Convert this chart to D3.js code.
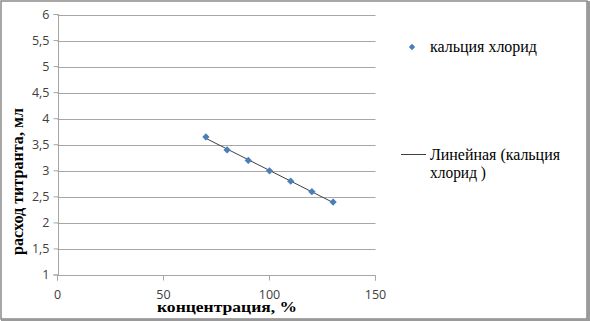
<!DOCTYPE html>
<html><head><meta charset="utf-8">
<script src="https://cdn.jsdelivr.net/npm/d3@7"></script>
<style>body{margin:0;background:#fff}svg{display:block}
.serif{font-family:"Liberation Serif","Times New Roman",Tinos,"DejaVu Serif",serif}</style>
</head><body><svg id="c" width="590" height="321"></svg>
<script>
const concentration = [70, 80, 90, 100, 110, 120, 130];
const titrant = [3.65, 3.4, 3.2, 3.0, 2.8, 2.6, 2.4];
const xTicks = [0, 50, 100, 150];
const yTicks = [1, 1.5, 2, 2.5, 3, 3.5, 4, 4.5, 5, 5.5, 6];
const seriesName = "кальция хлорид";
const trendName = ["Линейная (кальция", "хлорид )"];
const xTitle = "концентрация, %";
const yTitle = "расход титранта, мл";

const svg = d3.select("#c");
const W = 590, H = 321;
svg.append("rect").attr("x",0).attr("y",0).attr("width",W).attr("height",H).attr("fill","#fff");
svg.append("rect").attr("x",1).attr("y",1).attr("width",586).attr("height",318).attr("fill","none").attr("stroke","#8a8a8a").attr("stroke-width",1.5);
svg.append("rect").attr("x",587).attr("y",1).attr("width",3).attr("height",320).attr("fill","#9a9a9a");
svg.append("rect").attr("x",1).attr("y",319).attr("width",589).attr("height",2).attr("fill","#9a9a9a");

const x = d3.scaleLinear().domain([0,150]).range([57.5,375.5]);
const y = d3.scaleLinear().domain([1,6]).range([275,14.5]);
const fmt = d => String(d).replace(".", ",");

svg.append("g").selectAll("line").data(yTicks.filter(d=>d>1)).join("line")
  .attr("x1",x(0)).attr("x2",x(150)).attr("y1",d=>Math.round(y(d))+0.5).attr("y2",d=>Math.round(y(d))+0.5)
  .attr("stroke","#a6a6a6").attr("stroke-width",1);

const yAxis = svg.append("g").attr("transform",`translate(${Math.round(x(0))+0.5},0)`)
  .call(d3.axisLeft(y).tickValues(yTicks).tickFormat(fmt).tickSize(5).tickPadding(4).offset(0));
const xAxis = svg.append("g").attr("transform",`translate(0,${Math.round(y(1))+0.5})`)
  .call(d3.axisBottom(x).tickValues(xTicks).tickFormat(fmt).tickSize(5).tickPadding(10).offset(0));
[yAxis,xAxis].forEach(a=>{
  a.select(".domain").attr("stroke","#a6a6a6");
  a.selectAll(".tick line").attr("stroke","#a6a6a6");
  a.selectAll("text").attr("fill","#404040").style("font-family","'Open Sans', 'DejaVu Sans', sans-serif").style("font-size","12.5px");
});

// trend line (least squares)
const mx = d3.mean(concentration), my = d3.mean(titrant);
const slope = d3.sum(concentration.map((c,i)=>(c-mx)*(titrant[i]-my))) / d3.sum(concentration.map(c=>(c-mx)**2));
const icpt = my - slope*mx;
const ext = d3.extent(concentration);
svg.append("line").attr("x1",x(ext[0])).attr("y1",y(icpt+slope*ext[0]))
  .attr("x2",x(ext[1])).attr("y2",y(icpt+slope*ext[1]))
  .attr("stroke","#404040").attr("stroke-width",1);

const diamond = d3.symbol().type(d3.symbolDiamond2).size(34);
svg.append("g").selectAll("path").data(concentration).join("path")
  .attr("transform",(d,i)=>`translate(${x(d)},${y(titrant[i])})`)
  .attr("d",diamond).attr("fill","#4a7ebb");

// axis titles
svg.append("text").attr("class","serif").attr("transform",`translate(23,181.5) rotate(-90)`)
  .attr("text-anchor","middle").style("font-weight","bold").style("font-size","16px")
  .attr("textLength",147).attr("lengthAdjust","spacingAndGlyphs").text(yTitle);
svg.append("text").attr("class","serif").attr("x",227).attr("y",312).attr("text-anchor","middle")
  .style("font-weight","bold").style("font-size","15px")
  .attr("textLength",140).attr("lengthAdjust","spacingAndGlyphs").text(xTitle);

// legend
svg.append("path").attr("transform","translate(412,47)").attr("d",d3.symbol().type(d3.symbolDiamond2).size(26)).attr("fill","#4a7ebb");
svg.append("text").attr("class","serif").attr("x",430).attr("y",52).style("font-size","16px").attr("fill","#000")
  .attr("textLength",107).attr("lengthAdjust","spacingAndGlyphs").text(seriesName);
svg.append("line").attr("x1",401).attr("x2",426).attr("y1",154.5).attr("y2",154.5).attr("stroke","#404040").attr("stroke-width",1);
const tl = [130, 56];
trendName.forEach((t,i)=>svg.append("text").attr("class","serif").attr("x",430).attr("y",160+i*17.5).style("font-size","16px").attr("fill","#000")
  .attr("textLength",tl[i]).attr("lengthAdjust","spacingAndGlyphs").text(t));
</script></body></html>
